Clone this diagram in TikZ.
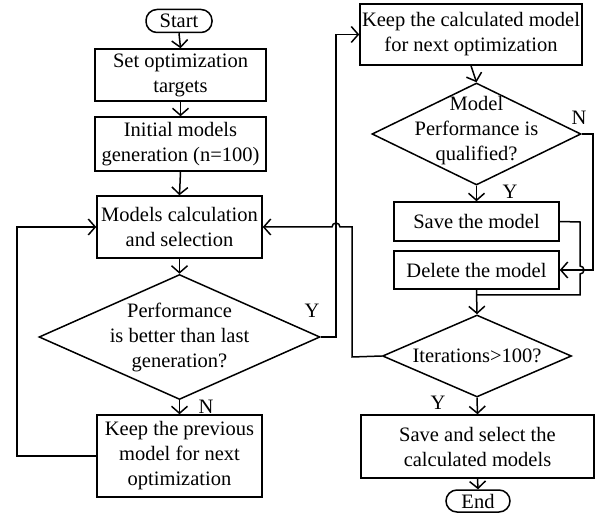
\documentclass[tikz,border=0pt]{standalone}
\usepackage{fontspec}
\setmainfont{Liberation Serif}
\usetikzlibrary{shapes.geometric,arrows.meta}
\begin{document}
\begin{tikzpicture}[x=1pt,y=1pt,
  every node/.style={font=\fontsize{20.5}{25}\selectfont},
  box/.style={draw,line width=1.5pt,inner sep=0pt,align=center},
  term/.style={box,rounded corners=11pt},
  dia/.style={draw,line width=1.5pt,diamond,inner sep=0pt},
  txt/.style={inner sep=0pt,align=center},
  lbl/.style={inner sep=0pt},
  conn/.style={line width=1.5pt},
  arr/.style={conn,-{Straight Barb[length=7pt,width=16pt,line width=1.5pt]}}]
\useasboundingbox (0,0) rectangle (603,-521);
% left column
\node[term,minimum width=66pt,minimum height=23pt] (start) at (179,-21) {Start};
\node[box,minimum width=171pt,minimum height=52pt] (b1) at (180.5,-75) {Set optimization\\targets};
\node[box,minimum width=171pt,minimum height=54pt] (b2) at (180.5,-144) {Initial models\\generation (n=100)};
\node[box,minimum width=165pt,minimum height=62pt] (b3) at (179.5,-227) {Models calculation\\and selection};
\node[dia,minimum width=281pt,minimum height=125pt] (d1) at (179.5,-337) {};
\node[txt] (d1t) at (d1.center) {Performance\\is better than last\\generation?};
\node[box,minimum width=165pt,minimum height=82pt] (b4) at (179.5,-456) {Keep the previous\\model for next\\optimization};
% right column
\node[box,minimum width=222pt,minimum height=61pt] (b5) at (471,-34.5) {Keep the calculated model\\for next optimization};
\node[dia,minimum width=209pt,minimum height=102pt] (d2) at (476.5,-134) {};
\node[txt] (d2t) at ([yshift=3pt]d2.center) {Model\\Performance is\\qualified?};
\node[box,minimum width=165pt,minimum height=39pt] (save) at (476.5,-221.5) {Save the model};
\node[box,minimum width=165pt,minimum height=38pt] (del) at (476.5,-270) {Delete the model};
\node[dia,minimum width=189pt,minimum height=82pt] (d3) at (477,-356) {};
\node[txt] (d3t) at (d3.center) {Iterations>100?};
\node[box,minimum width=233pt,minimum height=63pt] (b6) at (477.5,-446.5) {Save and select the\\calculated models};
\node[term,minimum width=64pt,minimum height=22pt] (end) at (478,-501) {End};
% coordinates
\coordinate (lx) at (17,-455);
\coordinate (ry) at (336,-337);
\coordinate (cx) at (352,-357);
\coordinate (nx) at (593,-134);
\coordinate (sx) at (580,-222);
\coordinate (jn) at (580,-295);
% connectors left
\draw[arr] (start.south) -- (b1.north);
\draw[arr] (b1.south) -- (b2.north);
\draw[arr] (b2.south) -- (b3.north);
\draw[arr] (b3.south) -- (d1.north);
\draw[arr] (d1.south) -- (b4.north);
\node[lbl] (nlab) at (206,-407) {N};
\draw[arr] (b4.west) -- (b4.west -| lx) |- (b3.west);
\draw[arr] (d1.east) -- (ry) |- (b5.west);
\node[lbl] (ylab1) at (312,-311) {Y};
\draw[arr] (d3.west) -- (cx) -- (cx |- b3.east) -- ([xshift=4pt]ry |- b3.east)
  arc[start angle=0,end angle=180,radius=4pt] -- (b3.east);
% connectors right
\draw[arr] (b5.south) -- (d2.north);
\draw[arr] (d2.south) -- (save.north);
\node[lbl] (ylab2) at (510,-192) {Y};
\node[lbl] (nlab2) at (579,-118) {N};
\draw[arr] (d2.east) -- (nx) |- (del.east);
\draw[conn] (save.east) -- (sx) -- ([yshift=4pt]sx |- del.east)
  arc[start angle=90,end angle=-90,radius=4pt] -- (jn) -- (jn -| del.south);
\draw[arr] (del.south) -- (d3.north);
\draw[arr] (d3.south) -- (b6.north);
\node[lbl] (ylab3) at (438,-403) {Y};
\draw[arr] (b6.south) -- (end.north);
\end{tikzpicture}
\end{document}
